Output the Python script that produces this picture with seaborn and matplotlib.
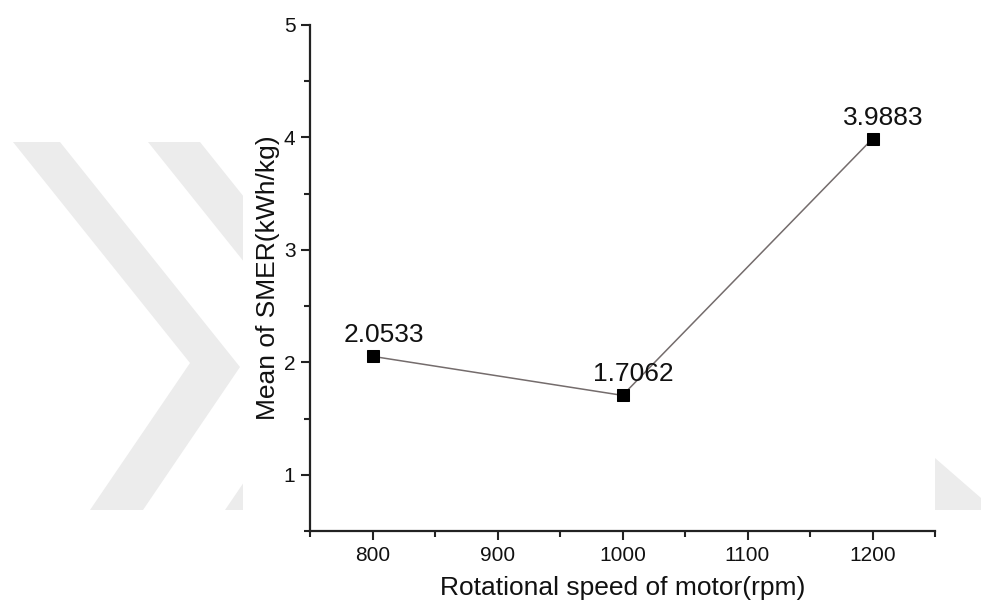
import numpy as np
import pandas as pd
import matplotlib
matplotlib.use("Agg")
import matplotlib.pyplot as plt
import seaborn as sns
from matplotlib.patches import Polygon, Rectangle
from matplotlib.ticker import MultipleLocator

# Data
speed = [800, 1000, 1200]  # rpm
smer_mean = [2.0533, 1.7062, 3.9883]  # kWh/kg
labels = ["2.0533", "1.7062", "3.9883"]

df = pd.DataFrame({"speed": speed, "smer": smer_mean})

sns.set_theme(style="ticks")
plt.rcParams['font.family'] = ['Liberation Sans', 'DejaVu Sans']

W, H = 981, 615
fig = plt.figure(figsize=(W / 100, H / 100), dpi=100)


def px(pts):
    # pixel coords (top-left origin) -> figure fraction
    return [(x / W, 1 - y / H) for x, y in pts]


# faint background watermark (grey chevrons), then the white chart panel on top
wm = "#ececec"
for shape in [
    [(13, 142), (60, 142), (240, 367), (143, 510), (90, 510), (190, 363)],
    [(148, 142), (200, 142), (380, 367), (278, 510), (225, 510), (325, 363)],
    [(935, 458), (981, 498), (981, 510), (935, 510)],
]:
    fig.patches.append(Polygon(px(shape), closed=True, transform=fig.transFigure,
                               facecolor=wm, edgecolor="none", zorder=0))
fig.patches.append(Rectangle((243 / W, 1 - 607 / H), (935 - 243) / W, 607 / H,
                             transform=fig.transFigure, facecolor="white",
                             edgecolor="none", zorder=1))

ax = fig.add_axes([310 / W, 1 - 531 / H, (935 - 310) / W, (531 - 25) / H])
ax.set_zorder(2)

sns.lineplot(data=df, x="speed", y="smer", ax=ax, color="#746c6c", linewidth=1.1,
             marker="s", markersize=8.5, markerfacecolor="black",
             markeredgecolor="black")

for x, y, t in zip(speed, smer_mean, labels):
    ax.annotate(t, (x, y), xytext=(8, 10), textcoords="offset points",
                ha="center", va="baseline", fontsize=19, color="#111111")

ax.set_xlim(750, 1250)
ax.set_ylim(0.5, 5)
ax.xaxis.set_minor_locator(MultipleLocator(50))
ax.yaxis.set_minor_locator(MultipleLocator(0.5))
ax.set_xticks([800, 900, 1000, 1100, 1200])
ax.set_yticks([1, 2, 3, 4, 5])

ax.set_xlabel("Rotational speed of motor(rpm)", fontsize=19, color="#111111", labelpad=8)
ax.set_ylabel("Mean of SMER(kWh/kg)", fontsize=19, color="#111111", labelpad=3)

for s in ["top", "right"]:
    ax.spines[s].set_visible(False)
for s in ["left", "bottom"]:
    ax.spines[s].set_linewidth(1.6)
    ax.spines[s].set_color("#222222")

ax.tick_params(which="major", direction="out", length=6.5, width=1.5,
               labelsize=15, pad=4, colors="#222222", labelcolor="#111111")
ax.tick_params(which="minor", direction="out", length=4, width=1.5, colors="#222222")

fig.savefig("out.png", dpi=100)
